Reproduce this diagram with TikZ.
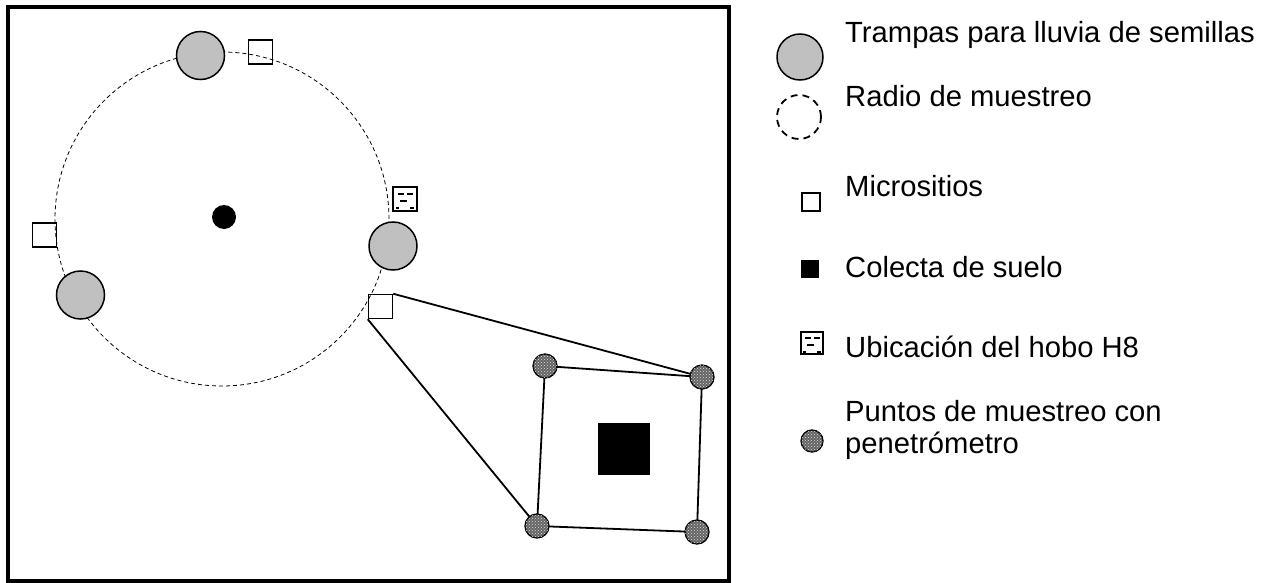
\documentclass[tikz,border=0pt]{standalone}
\usepackage{fontspec}
\setmainfont{Liberation Sans}
\usetikzlibrary{patterns}
\definecolor{trapgray}{RGB}{192,192,192}
\definecolor{dotgray}{RGB}{100,100,100}
\tikzset{
  trap/.style={circle, draw, line width=1.5pt, fill=trapgray, minimum size=48pt, inner sep=0pt},
  micro/.style={rectangle, draw, line width=1.5pt, minimum size=24pt, inner sep=0pt},
  soil/.style={rectangle, fill=black, minimum size=#1, inner sep=0pt},
  hobo/.style={rectangle, draw, line width=1.5pt, minimum size=#1, inner sep=0pt},
  pen/.style={circle, draw, line width=1.3pt, fill=dotgray, minimum size=#1, inner sep=0pt,
    postaction={pattern=crosshatch dots, pattern color=white!75!gray}},
  radius/.style={draw, dash pattern=on 4pt off 3pt, line width=0.8pt},
  link/.style={line width=1.8pt},
  legtext/.style={anchor=west, inner sep=0pt, font=\fontsize{29.2}{35}\selectfont},
}
\newcommand{\hobodashes}[1]{%
  \draw[line width=1.3pt] ([shift={(-7,-5)}]#1.center) -- ++(6,0)
    ([shift={(2,-5)}]#1.center) -- ++(6,0)
    ([shift={(-5,2)}]#1.center) -- ++(7,0)
    ([shift={(-9,9)}]#1.center) -- ++(3,0)
    ([shift={(5,9)}]#1.center) -- ++(4,0);}
\begin{document}
\begin{tikzpicture}[x=1pt,y=-1pt]
\useasboundingbox (0,0) rectangle (1265,583);
% frame
\draw[line width=4pt] (8,7) rectangle (729,581);
% sampling radius
\node[circle, radius, minimum size=334pt, inner sep=0pt] (ring) at (222,219) {};
\node[circle, fill=black, minimum size=24pt, inner sep=0pt] (centre) at (224,217) {};
% traps
\node[trap] (trapA) at (200.5,55.5) {};
\node[trap] (trapB) at (393,246) {};
\node[trap] (trapC) at (80.5,295) {};
% microsites
\node[micro] (microA) at (260.5,52) {};
\node[micro] (microB) at (44.5,235) {};
\node[micro] (microC) at (380.5,306.5) {};
% hobo
\node[hobo=24pt] (hoboA) at (405,199) {};
\hobodashes{hoboA}
% zoomed plot
\coordinate (p1) at (545,366);
\coordinate (p2) at (702,377);
\coordinate (p3) at (697,532);
\coordinate (p4) at (537,526);
\draw[link] (microC.north east) -- (p2);
\draw[link] (microC.south west) -- (p4);
\draw[link] (p1) -- (p2) -- (p3) -- (p4) -- cycle;
\node[pen=24pt] (penA) at (p1) {};
\node[pen=24pt] (penB) at (p2) {};
\node[pen=24pt] (penC) at (p3) {};
\node[pen=24pt] (penD) at (p4) {};
\node[soil=52pt] (soilA) at (624,449) {};
% legend
\node[trap, minimum size=46pt] (legTrap) at (800,57) {};
\node[legtext] (txtTrap) at (845,35) {Trampas para lluvia de semillas};
\node[circle, draw, dash pattern=on 7pt off 5pt, line width=1.8pt, minimum size=44pt, inner sep=0pt] (legRing) at (799,117) {};
\node[legtext] (txtRing) at (845,96) {Radio de muestreo};
\node[micro, minimum size=18pt] (legMicro) at (811,202) {};
\node[legtext] (txtMicro) at (845,186) {Micrositios};
\node[soil=18pt] (legSoil) at (810,269) {};
\node[legtext] (txtSoil) at (845,267) {Colecta de suelo};
\node[hobo=22pt] (legHobo) at (812,343) {};
\hobodashes{legHobo}
\node[legtext] (txtHobo) at (845,347) {Ubicación del hobo H8};
\node[pen=22pt] (legPen) at (812,441) {};
\node[legtext] (txtPen1) at (845,411) {Puntos de muestreo con};
\node[legtext] (txtPen2) at (845,446) {penetrómetro};
\end{tikzpicture}
\end{document}
